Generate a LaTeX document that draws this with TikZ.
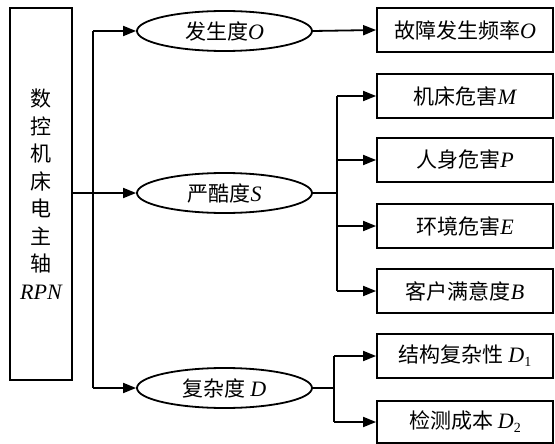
\documentclass[tikz,border=0pt]{standalone}
\usepackage{fontspec}
\setmainfont{Liberation Serif}
\newfontfamily\cjk{Noto Sans CJK SC}
\usetikzlibrary{shapes.geometric,arrows.meta}
\tikzset{
  every node/.style={font=\fontsize{21}{27.5}\selectfont\cjk, inner sep=0pt},
  ell/.style={draw, ellipse, line width=1.8pt, minimum width=175pt, minimum height=40pt},
  box/.style={draw, rectangle, line width=1.8pt, minimum width=176pt, minimum height=44pt},
  link/.style={line width=1.8pt},
  arr/.style={line width=1.8pt, -{Triangle[length=13pt,width=10pt]}}
}
\newcommand{\vi}[1]{{\fontsize{22}{24}\selectfont\rmfamily\itshape #1}}
\newcommand{\sbs}[1]{\raisebox{-0.35ex}{\fontsize{14}{15}\selectfont\rmfamily #1}}
\begin{document}
\begin{tikzpicture}[x=1pt,y=-1pt]
\useasboundingbox (0,0) rectangle (555,444);
\node[draw, rectangle, line width=1.8pt, minimum width=62pt, minimum height=372pt, align=center] (L) at (41,194)
  {数\\控\\机\\床\\电\\主\\轴\\\vi{RPN}};
\node[ell] (O) at (224.5,31) {发生度\vi{O}};
\node[ell] (S) at (224.5,193) {严酷度\vi{S}};
\node[ell] (D) at (224.5,388) {复杂度 \vi{D}};
\node[box] (F) at (465,30) {故障发生频率\vi{O}};
\node[box] (M) at (465,96) {机床危害\vi{M}};
\node[box] (P) at (465,160) {人身危害\vi{P}};
\node[box] (E) at (465,226) {环境危害\vi{E}};
\node[box] (B) at (465,291) {客户满意度\vi{B}};
\node[box] (D1) at (465,356) {结构复杂性 \vi{D}\sbs{1}};
\node[box, minimum height=42pt] (D2) at (465,422) {检测成本 \vi{D}\sbs{2}};
\coordinate (t) at (93,193);
\coordinate (s) at (337,193);
\coordinate (d) at (334,388);
\draw[link] (L.east |- S.west) -- (t);
\draw[link] (t |- O.west) -- (t |- D.west);
\draw[arr] (t |- O.west) -- (O.west);
\draw[arr] (t) -- (S.west);
\draw[arr] (t |- D.west) -- (D.west);
\draw[arr] (O.east) -- (F.west);
\draw[link] (S.east) -- (s);
\draw[link] (s |- M.west) -- (s |- B.west);
\draw[arr] (s |- M.west) -- (M.west);
\draw[arr] (s |- P.west) -- (P.west);
\draw[arr] (s |- E.west) -- (E.west);
\draw[arr] (s |- B.west) -- (B.west);
\draw[link] (D.east) -- (d);
\draw[link] (d |- D1.west) -- (d |- D2.west);
\draw[arr] (d |- D1.west) -- (D1.west);
\draw[arr] (d |- D2.west) -- (D2.west);
\end{tikzpicture}
\end{document}
